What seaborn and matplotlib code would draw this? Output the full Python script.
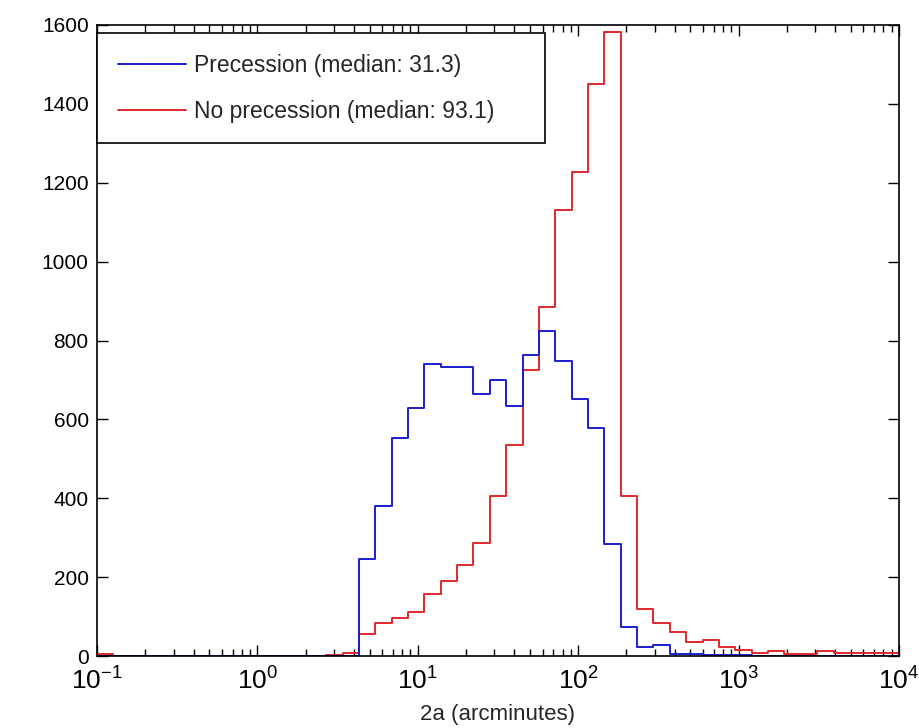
import numpy as np
import pandas as pd
import matplotlib
matplotlib.use("Agg")
import matplotlib.pyplot as plt
import seaborn as sns
from matplotlib.ticker import LogLocator, NullFormatter

# ---- data -------------------------------------------------------------
log_edge_min = -1.0
log_edge_max = 4.0
n_bins = 49

series_labels = ["Precession (median: 31.3)", "No precession (median: 93.1)"]

precession_counts = [
    0, 0, 0, 0, 0, 0, 0, 0, 0, 0,
    0, 0, 0, 0, 0, 0, 245, 380, 553, 630,
    741, 734, 734, 665, 699, 634, 762, 825, 747, 651,
    578, 285, 74, 22, 27, 6, 4, 3, 3, 2,
    0, 0, 0, 0, 0, 0, 0, 0, 0,
]
no_precession_counts = [
    4, 0, 0, 0, 0, 0, 0, 0, 0, 0,
    0, 0, 0, 0, 2, 8, 55, 83, 97, 112,
    156, 190, 232, 287, 405, 536, 724, 886, 1132, 1226,
    1450, 1582, 405, 119, 84, 62, 36, 41, 22, 16,
    7, 13, 6, 5, 13, 7, 7, 7, 7,
]

y_ticks = [0, 200, 400, 600, 800, 1000, 1200, 1400, 1600]
x_label = "2a (arcminutes)"
colors = ["#1c1cd0", "#e0282c"]

# ---- build table ------------------------------------------------------
edges = 10 ** np.linspace(log_edge_min, log_edge_max, n_bins + 1)
centers = np.sqrt(edges[:-1] * edges[1:])
df = pd.DataFrame({
    "value": np.concatenate([centers, centers]),
    "count": np.concatenate([precession_counts, no_precession_counts]).astype(float),
    "series": [series_labels[0]] * n_bins + [series_labels[1]] * n_bins,
})

# ---- figure -----------------------------------------------------------
sns.set_theme(style="white")
plt.rcParams["font.family"] = ["Liberation Sans", "DejaVu Sans"]
plt.rcParams["mathtext.fontset"] = "custom"
plt.rcParams["mathtext.rm"] = "Liberation Sans"
plt.rcParams["mathtext.it"] = "Liberation Sans:italic"
plt.rcParams["mathtext.bf"] = "Liberation Sans:bold"

fig = plt.figure(figsize=(9.19, 7.28), dpi=100)
ax = fig.add_axes([97 / 919, 1 - 656 / 728, (899 - 97) / 919, (656 - 25) / 728])

sns.histplot(
    data=df, x="value", weights="count", hue="series",
    hue_order=series_labels, palette=colors,
    bins=[float(e) for e in edges], element="step", fill=False, linewidth=1.4,
    ax=ax, legend=True,
)
ax.set_xscale("log")
ax.set_xlim(10 ** log_edge_min, 10 ** log_edge_max)
ax.set_ylim(y_ticks[0], y_ticks[-1])
ax.set_yticks(y_ticks)
ax.set_ylabel("")
ax.set_xlabel(x_label, fontsize=16, labelpad=7)

ax.xaxis.set_major_locator(LogLocator(base=10, numticks=10))
ax.xaxis.set_minor_locator(LogLocator(base=10, subs=np.arange(2, 10), numticks=100))
ax.xaxis.set_minor_formatter(NullFormatter())

for sp in ax.spines.values():
    sp.set_color("black")
    sp.set_linewidth(1.2)

ax.tick_params(axis="both", which="both", direction="in", colors="black",
               top=True, right=True, bottom=True, left=True)
ax.tick_params(axis="x", which="major", length=8, width=1.0, labelsize=19, pad=8)
ax.tick_params(axis="x", which="minor", length=5, width=1.0)
ax.tick_params(axis="y", which="major", length=8, width=1.0, labelsize=15, pad=6)

sns.move_legend(
    ax, "upper left", bbox_to_anchor=(0.0, 0.5, (545 - 97) / 802, 0.487),
    mode="expand", borderaxespad=0,
    title=None, frameon=True, fancybox=False, framealpha=1.0, fontsize=16.5,
    handlelength=3.0, handletextpad=0.35, borderpad=0.9, labelspacing=1.0,
)
leg = ax.get_legend()
leg.set_zorder(10)
leg.get_frame().set_edgecolor("black")
leg.get_frame().set_linewidth(1.2)
for h in leg.legend_handles:
    h.set_linewidth(1.4)

fig.savefig("out.png", dpi=100)
